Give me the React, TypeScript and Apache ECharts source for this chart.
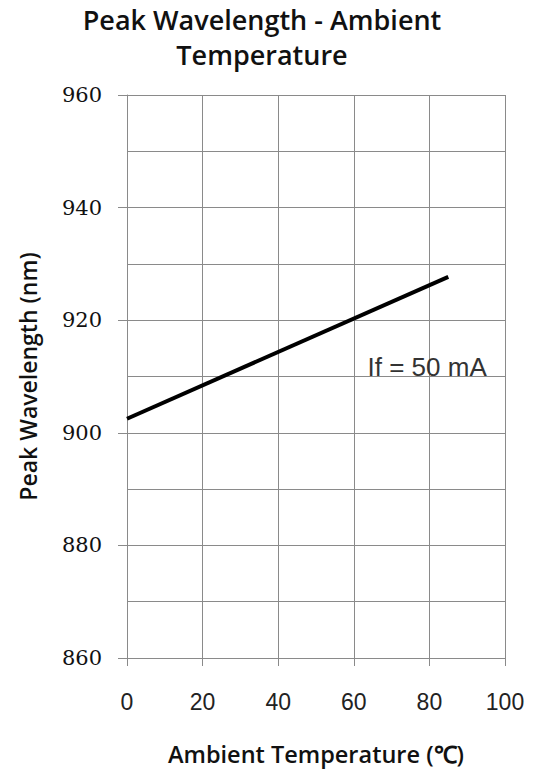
import React, { useEffect, useRef } from "react";
import * as echarts from "echarts";

const xTicks = [0, 20, 40, 60, 80, 100];
const yRange = [860, 960];
const curveTemp = [0, 85];
const curveWavelength = [902.5, 927.7];
const annotation = { text: "If = 50 mA", x: 79.4, y: 911.6 };

export default function App() {
  const ref = useRef<HTMLDivElement>(null);
  useEffect(() => {
    if (!ref.current) return;
    const chart = echarts.init(ref.current, undefined, { renderer: "svg" });
    const gray = "#8a8a8a";
    chart.setOption({
      animation: false,
      backgroundColor: "#fff",
      title: {
        text: "Peak Wavelength - Ambient\nTemperature",
        left: 257,
        top: -3,
        textAlign: "center",
        textStyle: {
          fontFamily: "Open Sans",
          fontWeight: 600,
          fontSize: 27,
          lineHeight: 35,
          color: "#111",
        },
      },
      grid: { left: 127, right: 34, top: 95, bottom: 115 },
      xAxis: {
        type: "value",
        min: xTicks[0],
        max: xTicks[xTicks.length - 1],
        interval: 20,
        name: "Ambient Temperature (℃)",
        nameLocation: "middle",
        nameGap: 84,
        nameTextStyle: { fontFamily: "Open Sans", fontWeight: 600, fontSize: 23.5, color: "#111" },
        axisLine: { show: true, lineStyle: { color: gray, width: 1 } },
        axisTick: { show: true, length: 8, lineStyle: { color: gray } },
        axisLabel: { margin: 32, fontFamily: "Liberation Sans", fontSize: 23, color: "#222" },
        splitLine: { show: true, lineStyle: { color: gray, width: 1 } },
      },
      yAxis: {
        type: "value",
        min: yRange[0],
        max: yRange[1],
        interval: 20,
        name: "Peak Wavelength (nm)",
        nameLocation: "middle",
        nameRotate: 90,
        nameGap: 88,
        nameTextStyle: { fontFamily: "Open Sans", fontWeight: 600, fontSize: 23, color: "#111" },
        axisLine: { show: true, lineStyle: { color: gray, width: 1 } },
        axisTick: { show: true, length: 9, lineStyle: { color: gray } },
        axisLabel: { margin: 25, fontFamily: "DejaVu Serif", fontSize: 21, color: "#111" },
        splitLine: { show: true, lineStyle: { color: gray, width: 1 } },
        minorTick: { show: false, splitNumber: 2 },
        minorSplitLine: { show: true, lineStyle: { color: gray, width: 1 } },
      },
      series: [
        {
          type: "line",
          data: curveTemp.map((t, i) => [t, curveWavelength[i]]),
          symbol: "none",
          lineStyle: { color: "#000", width: 4 },
          markPoint: {
            symbol: "circle",
            symbolSize: 0,
            data: [{ coord: [annotation.x, annotation.y] }],
            label: {
              show: true,
              position: "inside",
              formatter: annotation.text,
              fontFamily: "Liberation Sans",
              fontSize: 26,
              color: "#333",
            },
          },
        },
      ],
    });
    return () => chart.dispose();
  }, []);
  return <div ref={ref} style={{ width: 539, height: 773, position: "absolute", left: 0, top: 0 }} />;
}
